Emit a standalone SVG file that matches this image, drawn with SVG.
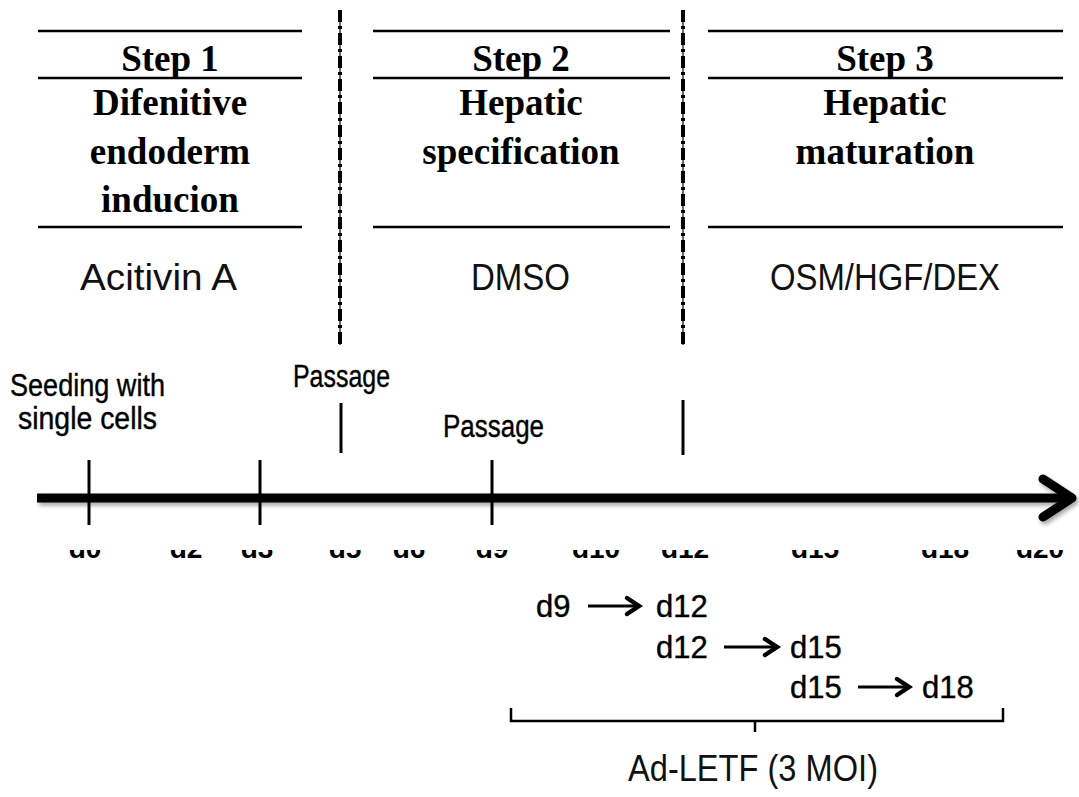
<svg xmlns="http://www.w3.org/2000/svg" width="1079" height="797" viewBox="0 0 1079 797">
<style>
.rule{stroke:#000;stroke-width:2.5;fill:none}
.step{font-family:"Liberation Serif","Times New Roman",serif;font-weight:bold;font-size:37px;fill:#000;text-anchor:middle}
.agent{font-family:"Liberation Sans",Arial,sans-serif;font-size:36px;fill:#111}
.lbl{font-family:"Liberation Sans",Arial,sans-serif;font-size:31px;fill:#000;stroke:#000;stroke-width:0.4}
.day{font-family:"Liberation Sans",Arial,sans-serif;font-weight:bold;font-size:28px;fill:#000;text-anchor:middle}
.tick{stroke:#000;stroke-width:3;fill:none}
.dthin{stroke:#000;stroke-width:1.2}
.dthick{stroke:#000;stroke-width:4;stroke-dasharray:12 4 3 4}
.arr{stroke:#000;stroke-width:3.2;fill:none;stroke-linecap:butt}
.ahead{stroke:#000;stroke-width:4.5;fill:none;stroke-linejoin:miter;stroke-linecap:round}
</style>
<defs>
<filter id="sh" x="-5%" y="-50%" width="110%" height="200%">
<feDropShadow dx="2" dy="3" stdDeviation="2" flood-color="#000" flood-opacity="0.35"/>
</filter>
<clipPath id="dayclip"><rect x="0" y="550" width="1079" height="20"/></clipPath>
</defs>
<rect width="1079" height="797" fill="#fff"/>

<g id="step1">
<line class="rule" x1="38" y1="31" x2="302" y2="31"/>
<line class="rule" x1="38" y1="78" x2="302" y2="78"/>
<line class="rule" x1="38" y1="227" x2="302" y2="227"/>
<text class="step" x="170" y="71">Step 1</text>
<text class="step" x="170" y="115">Difenitive</text>
<text class="step" x="170" y="164">endoderm</text>
<text class="step" x="170" y="212">inducion</text>
<text class="agent" x="80" y="290" textLength="157" lengthAdjust="spacingAndGlyphs">Acitivin A</text>
</g>

<g id="step2">
<line class="rule" x1="373" y1="31" x2="670" y2="31"/>
<line class="rule" x1="373" y1="78" x2="670" y2="78"/>
<line class="rule" x1="373" y1="227" x2="670" y2="227"/>
<text class="step" x="521" y="71">Step 2</text>
<text class="step" x="521" y="115">Hepatic</text>
<text class="step" x="521" y="164">specification</text>
<text class="agent" x="471" y="290" textLength="99" lengthAdjust="spacingAndGlyphs">DMSO</text>
</g>

<g id="step3">
<line class="rule" x1="708" y1="31" x2="1063" y2="31"/>
<line class="rule" x1="708" y1="78" x2="1063" y2="78"/>
<line class="rule" x1="708" y1="227" x2="1063" y2="227"/>
<text class="step" x="885" y="71">Step 3</text>
<text class="step" x="885" y="115">Hepatic</text>
<text class="step" x="885" y="164">maturation</text>
<text class="agent" x="770" y="290" textLength="230" lengthAdjust="spacingAndGlyphs">OSM/HGF/DEX</text>
</g>

<g id="dividers">
<line class="dthin" x1="340" y1="10" x2="340" y2="345"/>
<line class="dthick" x1="340" y1="10" x2="340" y2="345"/>
<line class="dthin" x1="683" y1="10" x2="683" y2="345"/>
<line class="dthick" x1="683" y1="10" x2="683" y2="345"/>
</g>

<g id="timeline">
<g filter="url(#sh)">
<line x1="37" y1="498" x2="1068" y2="498" stroke="#000" stroke-width="9"/>
<polyline points="1043,479 1072,498 1043,517" stroke="#000" stroke-width="9" fill="none" stroke-linecap="round" stroke-linejoin="round"/>
</g>
<line class="tick" x1="89" y1="460" x2="89" y2="525"/>
<line class="tick" x1="260" y1="460" x2="260" y2="525"/>
<line class="tick" x1="492" y1="460" x2="492" y2="525"/>
<line class="tick" x1="341" y1="403" x2="341" y2="453"/>
<line class="tick" x1="683" y1="400" x2="683" y2="455"/>
</g>

<g id="events">
<text class="lbl" x="10" y="396" textLength="155" lengthAdjust="spacingAndGlyphs">Seeding with</text>
<text class="lbl" x="18" y="429" textLength="139" lengthAdjust="spacingAndGlyphs">single cells</text>
<text class="lbl" x="293" y="387" textLength="97" lengthAdjust="spacingAndGlyphs">Passage</text>
<text class="lbl" x="443" y="437" textLength="101" lengthAdjust="spacingAndGlyphs">Passage</text>
</g>

<g id="days" clip-path="url(#dayclip)">
<text class="day" x="85" y="558">d0</text>
<text class="day" x="186" y="558">d2</text>
<text class="day" x="257" y="558">d3</text>
<text class="day" x="345" y="558">d5</text>
<text class="day" x="409" y="558">d6</text>
<text class="day" x="492" y="558">d9</text>
<text class="day" x="596" y="558">d10</text>
<text class="day" x="685" y="558">d12</text>
<text class="day" x="815" y="558">d15</text>
<text class="day" x="945" y="558">d18</text>
<text class="day" x="1040" y="558">d20</text>
</g>

<g id="infection">
<text class="lbl" x="536" y="617">d9</text>
<text class="lbl" x="656" y="617">d12</text>
<text class="lbl" x="656" y="658">d12</text>
<text class="lbl" x="790" y="658">d15</text>
<text class="lbl" x="790" y="698">d15</text>
<text class="lbl" x="922" y="698">d18</text>
</g>

<g id="connectors">
<line class="arr" x1="588" y1="606" x2="636" y2="606"/>
<polyline class="ahead" points="627,598 639,606 627,614"/>
<line class="arr" x1="724" y1="647" x2="774" y2="647"/>
<polyline class="ahead" points="765,639 777,647 765,655"/>
<line class="arr" x1="858" y1="687" x2="906" y2="687"/>
<polyline class="ahead" points="897,679 909,687 897,695"/>
</g>

<g id="bracket">
<path class="rule" d="M511,708 V721 H1003 V708 M755,721 V732"/>
<text class="agent" x="628" y="781" textLength="250" lengthAdjust="spacingAndGlyphs">Ad-LETF (3 MOI)</text>
</g>
</svg>
